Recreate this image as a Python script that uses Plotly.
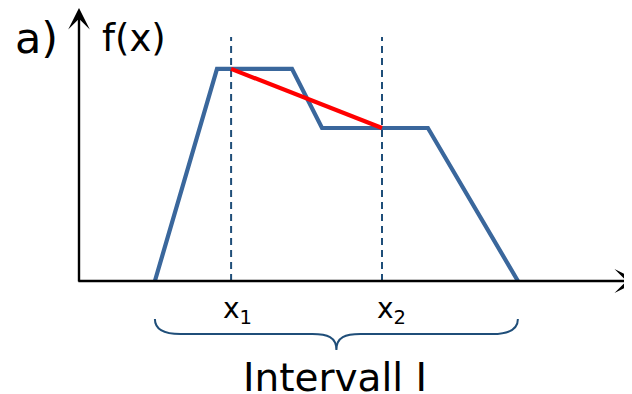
import plotly.graph_objects as go

# ---- data (diagram units) ----
curve_x = [2.53, 4.6, 7.1, 8.1, 11.63, 14.63]
curve_f = [0, 7.07, 7.07, 5.1, 5.1, 0]
x1 = 5.07
x2 = 10.1
f_x1 = 7.07
f_x2 = 5.1
labels = ["x<sub>1</sub>", "x<sub>2</sub>"]
interval_label = "Intervall I"
panel_label = "a)"
y_label = "f(x)"

# ---- layout helpers ----
SCALE = 30.0          # px per unit
PAGE_OFF = 8          # default body margin of the html page
OX, OY = 79 - PAGE_OFF, 281 - PAGE_OFF   # origin in figure px
W, H = 632, 394
xr = [(0 - OX) / SCALE, (W - OX) / SCALE]
yr = [(OY - H) / SCALE, (OY - 0) / SCALE]

BLUE = "#3A679C"
NAVY = "#1F4E79"
FONT = "DejaVu Sans"

fig = go.Figure()

# main curve
fig.add_trace(go.Scatter(x=curve_x, y=curve_f, mode="lines",
                         line=dict(color=BLUE, width=4.2), hoverinfo="skip"))
# dashed verticals
dash_top = 8.13
for xv in (x1, x2):
    fig.add_trace(go.Scatter(x=[xv, xv], y=[0, dash_top], mode="lines",
                             line=dict(color=NAVY, width=2, dash="7px,5px"),
                             hoverinfo="skip"))
# secant line
fig.add_trace(go.Scatter(x=[x1, x2], y=[f_x1, f_x2], mode="lines",
                         line=dict(color="#FF0000", width=4.2), hoverinfo="skip"))

annotations = []
# axes arrows
annotations.append(dict(x=18.65, y=0, ax=-0.07, ay=0, xref="x", yref="y",
                        axref="x", ayref="y", text="", showarrow=True,
                        arrowhead=3, arrowsize=1.6, arrowwidth=2.5,
                        arrowcolor="black"))
annotations.append(dict(x=0, y=9.1, ax=0, ay=-0.07, xref="x", yref="y",
                        axref="x", ayref="y", text="", showarrow=True,
                        arrowhead=3, arrowsize=1.5, arrowwidth=2.4,
                        arrowcolor="black"))

# brace
a, b = curve_x[0], curve_x[-1]
c = (a + b) / 2
yt, ym, yb = -1.27, -1.77, -2.3
brace = (f"M{a},{yt} C{a},{yt-0.35} {a+0.3},{ym} {a+0.85},{ym} "
         f"L{c-0.8},{ym} C{c-0.3},{ym} {c},{ym-0.1} {c},{yb} "
         f"C{c},{ym-0.1} {c+0.3},{ym} {c+0.8},{ym} "
         f"L{b-0.85},{ym} C{b-0.3},{ym} {b},{yt-0.35} {b},{yt}")
shapes = [dict(type="path", path=brace, xref="x", yref="y",
               line=dict(color=NAVY, width=2))]

# text
annotations.append(dict(x=x1 + 0.2, y=-0.97, text=labels[0], showarrow=False,
                        font=dict(family=FONT, size=28, color="black")))
annotations.append(dict(x=x2 + 0.3, y=-0.97, text=labels[1], showarrow=False,
                        font=dict(family=FONT, size=28, color="black")))
annotations.append(dict(x=c - 0.05, y=-3.2, text=interval_label, showarrow=False,
                        font=dict(family=FONT, size=39, color="black")))
annotations.append(dict(x=-2.2, y=8.1, text=panel_label, showarrow=False,
                        xanchor="left", font=dict(family=FONT, size=43, color="black")))
annotations.append(dict(x=0.7, y=8.1, text=y_label, showarrow=False,
                        xanchor="left", font=dict(family=FONT, size=37, color="black")))

fig.update_layout(
    width=W, height=H, margin=dict(l=0, r=0, t=0, b=0),
    paper_bgcolor="white", plot_bgcolor="white", showlegend=False,
    xaxis=dict(range=xr, visible=False, fixedrange=True),
    yaxis=dict(range=yr, visible=False, fixedrange=True),
    shapes=shapes, annotations=annotations,
)
fig.write_html("out.html", config={"displayModeBar": False})
